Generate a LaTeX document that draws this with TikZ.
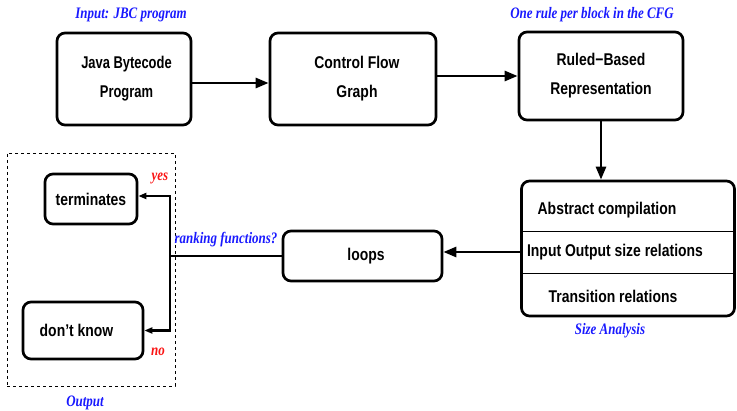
\documentclass[tikz,border=0pt]{standalone}
\usepackage{fontspec}
\usepackage{graphicx}
\setmainfont{Liberation Serif}
\setsansfont{Liberation Sans}
\usetikzlibrary{arrows.meta}
\newcommand{\sq}[1]{\scalebox{0.82}[1]{#1}}
\newcommand{\sqj}[1]{\scalebox{0.76}[1]{#1}}
\newcommand{\sqi}[1]{\scalebox{0.81}[1]{#1}}
\definecolor{lblue}{RGB}{25,25,255}
\definecolor{lred}{RGB}{250,20,20}
\tikzset{
  box/.style={draw, line width=2.7pt, rounded corners=8pt, inner sep=0pt,
    align=center, font=\sffamily\bfseries\fontsize{17}{29}\selectfont},
  boxtext/.style={font=\sffamily\bfseries\fontsize{17}{20}\selectfont, inner sep=0pt},
  arr/.style={line width=2.7pt, -{Triangle[length=13pt,width=10pt]}},
  sarr/.style={line width=2.2pt, -{Triangle[length=8pt,width=6pt]}},
  plain/.style={line width=2.7pt},
  note/.style={font=\rmfamily\bfseries\itshape\fontsize{16}{19}\selectfont, text=lblue, inner sep=0pt},
  ans/.style={font=\rmfamily\bfseries\itshape\fontsize{16}{19}\selectfont, text=lred, inner sep=0pt},
}
\begin{document}
\begin{tikzpicture}[x=1pt,y=1pt]
\useasboundingbox (0,0) rectangle (737,-411);
% top row
\node[box, minimum width=134pt, minimum height=92pt] (java) at (124,-79) {\hspace*{5pt}\sqj{Java Bytecode}\\\hspace*{5pt}\sqj{Program}};
\node[box, minimum width=166pt, minimum height=92pt] (cfg) at (353,-79) {\hspace*{8pt}\sq{Control Flow}\\\hspace*{8pt}\sq{Graph}};
\node[box, minimum width=164pt, minimum height=88pt] (ruled) at (601,-76) {\sq{Ruled−Based}\\\sq{Representation}};
% size analysis box
\node[draw, line width=2.7pt, rounded corners=8pt, minimum width=213pt, minimum height=135pt, inner sep=0pt] (size) at (628,-248.5) {};
\draw[line width=0.8pt] (size.west |- 0,-231) -- (size.east |- 0,-231);
\draw[line width=0.8pt] (size.west |- 0,-273) -- (size.east |- 0,-273);
\node[boxtext] (ac) at (607,-210) {\sq{Abstract compilation}};
\node[boxtext] (io) at (615,-252) {\sq{Input Output size relations}};
\node[boxtext] (tr) at (613,-296) {\sq{Transition relations}};
% loops and outputs
\node[box, minimum width=159pt, minimum height=50pt] (loops) at (362.5,-256) {\hspace*{7pt}\sq{loops}};
\node[box, minimum width=92pt, minimum height=50pt] (term) at (91,-199) {\sq{terminates}};
\node[box, minimum width=120pt, minimum height=57pt] (dk) at (83,-330.5) {\sq{don’t know}\hspace*{13pt}};
\node[draw, dashed, line width=0.8pt, minimum width=168pt, minimum height=233pt, inner sep=0pt] (outbox) at (91,-269.5) {};
% connectors
\draw[arr] ([yshift=-4pt]java.east) -- ([yshift=-4pt]cfg.west);
\draw[arr] ([yshift=3pt]cfg.east) -- (ruled.west);
\draw[arr] (ruled.south) -- (ruled.south |- size.north);
\draw[arr] (io.west -| size.west) -- (io.west -| loops.east);
\coordinate (br) at (170,-256);
\draw[plain] (loops.west) -- (br);
\draw[sarr] (br) |- ([yshift=3pt]term.east);
\draw[sarr] (br) |- (dk.east);
% labels
\node[note] (lin) at (131,-15) {\sqi{Input: JBC program}};
\node[note] (lrule) at (592,-15) {\sqi{One rule per block in the CFG}};
\node[note] (lrank) at (226,-240) {\sqi{ranking functions?}};
\node[note] (lsize) at (610,-331) {\sqi{Size Analysis}};
\node[note] (lout) at (85,-403) {\sqi{Output}};
\node[ans] (lyes) at (160,-178) {\sqi{yes}};
\node[ans] (lno) at (158,-352) {\sqi{no}};
\end{tikzpicture}
\end{document}
